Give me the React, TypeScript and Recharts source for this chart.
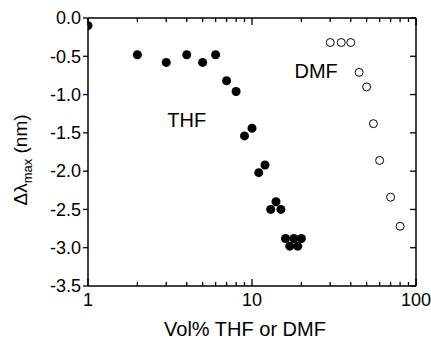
import { ReferenceDot, Scatter, ScatterChart, XAxis, YAxis } from "recharts";

// Shift of the absorption maximum against solvent fraction (log x).
const thfVol = [1, 2, 3, 4, 5, 6, 7, 8, 9, 10, 11, 12, 13, 14, 15, 16, 17, 18, 19, 20];
const thfShift = [
  -0.1, -0.48, -0.58, -0.48, -0.58, -0.48, -0.82, -0.96, -1.54, -1.44,
  -2.02, -1.92, -2.5, -2.4, -2.5, -2.88, -2.98, -2.88, -2.98, -2.88,
];
const dmfVol = [30, 35, 40, 45, 50, 55, 60, 70, 80];
const dmfShift = [-0.32, -0.32, -0.32, -0.71, -0.9, -1.38, -1.86, -2.34, -2.72];

const xTicks = [1, 2, 3, 4, 5, 6, 7, 8, 9, 10, 20, 30, 40, 50, 60, 70, 80, 90, 100];
const xLabelled = [1, 10, 100];
const yTicks = [-3.5, -3, -2.5, -2, -1.5, -1, -0.5, 0];

const thfData = thfVol.map((v, i) => ({ vol: v, shift: thfShift[i] }));
const dmfData = dmfVol.map((v, i) => ({ vol: v, shift: dmfShift[i] }));

const FONT = "'Liberation Sans', Arial, sans-serif";
const INK = "#000";

// chart layout; the plot box is what's left after the axis bands
const W = 431;
const H = 339;
const LEFT = 88;
const RIGHT = 15;
const TOP = 18;
const BOTTOM = 53;
const PLOT_W = W - LEFT - RIGHT;
const PLOT_H = H - TOP - BOTTOM;

// The secondary (top/right) axes would not draw here, so the bottom and left
// tick renderers also draw the mirrored inward ticks and close the frame.
function BottomTick({ x, y, payload }: any) {
  const major = xLabelled.includes(payload.value);
  const len = major ? 7 : 4;
  const top = y - PLOT_H;
  return (
    <g>
      <line x1={x} x2={x} y1={y} y2={y - len} stroke={INK} strokeWidth={1.3} />
      <line x1={x} x2={x} y1={top} y2={top + len} stroke={INK} strokeWidth={1.3} />
      {payload.value === 100 && (
        <line x1={x} x2={x} y1={y} y2={top} stroke={INK} strokeWidth={1.5} />
      )}
      {major && (
        <text x={x} y={y + 20} textAnchor="middle" fontSize={18} fill={INK} fontFamily={FONT}>
          {payload.value}
        </text>
      )}
    </g>
  );
}

function LeftTick({ x, y, payload }: any) {
  const right = x + PLOT_W;
  return (
    <g>
      <line x1={x - 5} x2={x} y1={y} y2={y} stroke={INK} strokeWidth={1.3} />
      <line x1={right - 6} x2={right} y1={y} y2={y} stroke={INK} strokeWidth={1.3} />
      {payload.value === 0 && (
        <line x1={x} x2={right} y1={y} y2={y} stroke={INK} strokeWidth={1.5} />
      )}
      <text x={x - 7} y={y} dy="0.35em" textAnchor="end" fontSize={18} fill={INK} fontFamily={FONT}>
        {payload.value.toFixed(1)}
      </text>
    </g>
  );
}

function YTitle({ viewBox }: any) {
  const cx = viewBox.x + 20;
  const cy = viewBox.y + viewBox.height / 2 + 8;
  return (
    <text
      x={cx}
      y={cy}
      transform={`rotate(-90 ${cx} ${cy})`}
      textAnchor="middle"
      dy="0.35em"
      fontSize={19}
      fill={INK}
      fontFamily={FONT}
    >
      Δλ
      <tspan fontSize={13} dy={5}>max</tspan>
      <tspan dy={-5}> (nm)</tspan>
    </text>
  );
}

function XTitle({ viewBox }: any) {
  return (
    <text
      x={viewBox.x + viewBox.width / 2 - 7}
      y={viewBox.y + 50}
      textAnchor="middle"
      fontSize={20}
      fill={INK}
      fontFamily={FONT}
    >
      Vol% THF or DMF
    </text>
  );
}

const axisLine = { stroke: INK, strokeWidth: 1.5 };

export default function App() {
  return (
    <div style={{ position: "absolute", left: 0, top: 0, background: "#fff", fontFamily: FONT }}>
      <ScatterChart width={W} height={H} margin={{ top: TOP, right: RIGHT, bottom: 0, left: 0 }}>
        <XAxis
          dataKey="vol"
          type="number"
          scale="log"
          domain={[1, 100]}
          allowDataOverflow
          ticks={xTicks}
          interval={0}
          tickSize={0}
          tickMargin={0}
          tickLine={false}
          tick={(p: any) => <BottomTick {...p} />}
          axisLine={axisLine}
          height={BOTTOM}
          label={{ content: (p: any) => <XTitle {...p} /> }}
        />
        <YAxis
          dataKey="shift"
          type="number"
          domain={[-3.5, 0]}
          allowDataOverflow
          ticks={yTicks}
          interval={0}
          tickSize={0}
          tickMargin={0}
          tickLine={false}
          tick={(p: any) => <LeftTick {...p} />}
          axisLine={axisLine}
          width={LEFT}
          label={{ content: (p: any) => <YTitle {...p} /> }}
        />
        <Scatter
          name="THF"
          data={thfData}
          isAnimationActive={false}
          shape={(p: any) => <circle cx={p.cx} cy={p.cy} r={4.5} fill={INK} />}
        />
        <Scatter
          name="DMF"
          data={dmfData}
          isAnimationActive={false}
          shape={(p: any) => <circle cx={p.cx} cy={p.cy} r={4} fill="#fff" stroke={INK} strokeWidth={1} />}
        />
        <ReferenceDot
          x={4}
          y={-1.33}
          r={0}
          label={{ value: "THF", position: "center", fontSize: 20, fill: INK, fontFamily: FONT }}
        />
        <ReferenceDot
          x={24.6}
          y={-0.69}
          r={0}
          label={{ value: "DMF", position: "center", fontSize: 20, fill: INK, fontFamily: FONT }}
        />
      </ScatterChart>
    </div>
  );
}
